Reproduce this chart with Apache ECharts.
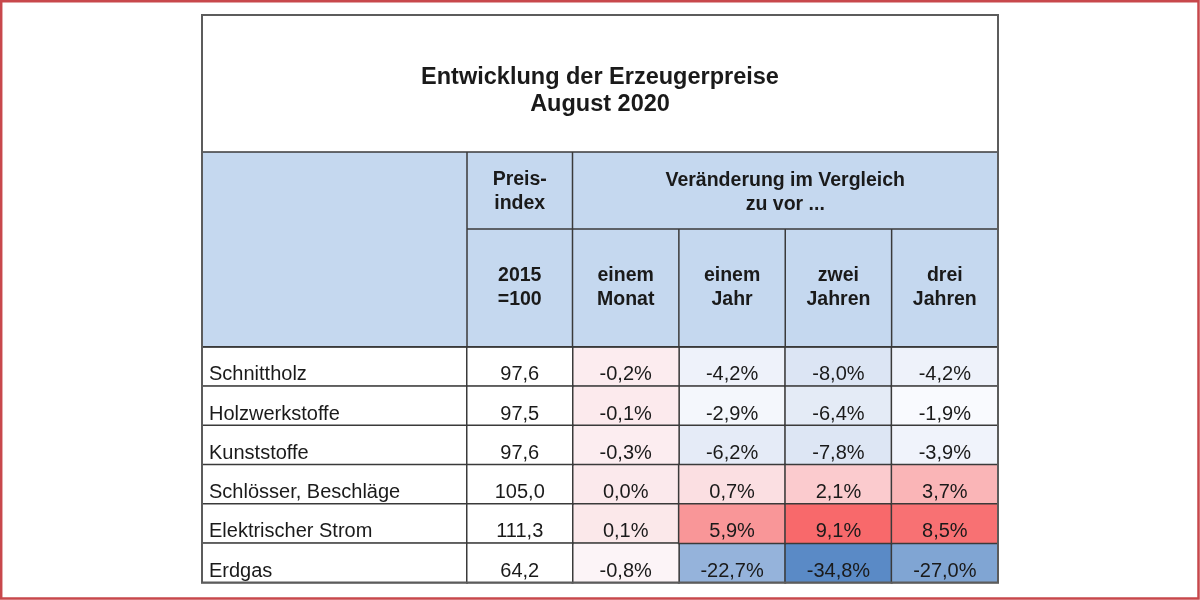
<!DOCTYPE html>
<html>
<head>
    <meta charset="utf-8">
    <title>Entwicklung der Erzeugerpreise</title>
    <script src="https://cdn.jsdelivr.net/npm/echarts@6/dist/echarts.min.js"></script>
    <style>html, body { margin: 0; padding: 0; background: #fff; }</style>
</head>
<body>
    <div id="main" style="width: 1200px;height:600px;"></div>
    <script type="text/javascript">
        // Werte aus der Tabelle
        var categories = ["Schnittholz", "Holzwerkstoffe", "Kunststoffe", "Schlösser, Beschläge", "Elektrischer Strom", "Erdgas"]
        var priceIndex = [97.6, 97.5, 97.6, 105.0, 111.3, 64.2]
        var periods = ["einem\nMonat", "einem\nJahr", "zwei\nJahren", "drei\nJahren"]
        var changeMonth = [-0.2, -0.1, -0.3, 0.0, 0.1, -0.8]
        var changeYear = [-4.2, -2.9, -6.2, 0.7, 5.9, -22.7]
        var changeTwoYears = [-8.0, -6.4, -7.8, 2.1, 9.1, -34.8]
        var changeThreeYears = [-4.2, -1.9, -3.9, 3.7, 8.5, -27.0]
        var titleText = "Entwicklung der Erzeugerpreise\nAugust 2020"
        var indexHead = "Preis-\nindex"
        var indexBase = "2015\n=100"
        var changeHead = "Veränderung im Vergleich\nzu vor ..."

        var font = "Liberation Sans"
        var ink = "#1a1a1a"
        var rule = "#3a3a3a"

        // Tabellenraster
        var L = 202, R = 998, T = 15, B = 582.5
        var yHead = 152, yHead2 = 229, yBody = 347
        var xIndex = 467, xChange = 572.5

        function fmt(v) {
            return v.toFixed(1).replace(".", ",")
        }

        // Farbskala wie Excel: Mitte beim 50. Perzentil
        var columns = [changeMonth, changeYear, changeTwoYears, changeThreeYears]
        var all = []
        columns.forEach(function (col) { all = all.concat(col) })
        var sorted = all.slice().sort(function (a, b) { return a - b })
        var pos = (sorted.length - 1) * 0.5
        var mid = sorted[Math.floor(pos)] + (sorted[Math.ceil(pos)] - sorted[Math.floor(pos)]) * (pos - Math.floor(pos))
        var minVal = sorted[0], maxVal = sorted[sorted.length - 1]

        var lowData = [], highData = []
        columns.forEach(function (col, j) {
            col.forEach(function (v, i) {
                if (v <= mid) lowData.push([j, i, v])
                else highData.push([j, i, v])
            })
        })
        var nameData = categories.map(function (c, i) { return [0, i, 0] })
        var indexData = priceIndex.map(function (v, i) { return [0, i, v] })

        var cellLabel = {
            show: true,
            position: ["50%", "70%"],
            align: "center",
            verticalAlign: "middle",
            color: ink,
            fontSize: 20,
            fontFamily: font
        }
        var cellStyle = { borderColor: rule, borderWidth: 1.5 }

        function line(x1, y1, x2, y2) {
            return { type: "line", z: 50, shape: { x1: x1, y1: y1, x2: x2, y2: y2 }, style: { stroke: rule, lineWidth: 1.5 } }
        }
        function headText(x, y, text) {
            return {
                type: "text", z: 50, x: x, y: y,
                style: { text: text, align: "center", verticalAlign: "middle", fontSize: 19.5, fontWeight: "bold", fontFamily: font, lineHeight: 24, fill: ink }
            }
        }

        var bandW = (R - xChange) / periods.length
        var graphics = [
            { type: "rect", z: 0, shape: { x: L, y: yHead, width: R - L, height: yBody - yHead }, style: { fill: "#c5d8ef" } },
            line(L, yHead, R, yHead),
            line(xIndex, yHead2, R, yHead2),
            line(L, yBody, R, yBody),
            line(xIndex, yHead, xIndex, yBody),
            line(xChange, yHead, xChange, yBody),
            headText((xIndex + xChange) / 2, (yHead + yHead2) / 2 + 1, indexHead),
            headText((xIndex + xChange) / 2, (yHead2 + yBody) / 2, indexBase),
            headText((xChange + R) / 2, (yHead + yHead2) / 2 + 2, changeHead),
            { type: "rect", z: 60, shape: { x: L, y: T, width: R - L, height: B - T }, style: { fill: "none", stroke: "#5c5c5c", lineWidth: 2 } },
            { type: "rect", z: 60, shape: { x: 1.2, y: 1.2, width: 1197.3, height: 597.3 }, style: { fill: "none", stroke: "#c8484c", lineWidth: 2.5 } }
        ]
        for (var k = 1; k < periods.length; k++) {
            graphics.push(line(xChange + k * bandW, yHead2, xChange + k * bandW, yBody))
        }

        var myChart = echarts.init(document.getElementById("main"))

        var hiddenCat = { type: "category", show: false }
        var option = {
            backgroundColor: "#ffffff",
            animation: false,
            title: {
                text: titleText,
                left: "center",
                top: 64,
                padding: 0,
                textStyle: { fontSize: 23.5, fontWeight: "bold", fontFamily: font, color: ink, lineHeight: 27 }
            },
            grid: [
                { left: L, top: yBody, width: xIndex - L, height: B - yBody },
                { left: xIndex, top: yBody, width: xChange - xIndex, height: B - yBody },
                { left: xChange, top: yBody, width: R - xChange, height: B - yBody }
            ],
            xAxis: [
                Object.assign({ gridIndex: 0, data: [""] }, hiddenCat),
                Object.assign({ gridIndex: 1, data: [""] }, hiddenCat),
                {
                    gridIndex: 2, type: "category", data: periods, position: "top", z: 10,
                    axisLine: { show: false }, axisTick: { show: false }, splitLine: { show: false },
                    axisLabel: { interval: 0, margin: 35, fontSize: 19.5, fontWeight: "bold", fontFamily: font, lineHeight: 24, color: ink }
                }
            ],
            yAxis: [
                Object.assign({ gridIndex: 0, data: categories, inverse: true }, hiddenCat),
                Object.assign({ gridIndex: 1, data: categories, inverse: true }, hiddenCat),
                Object.assign({ gridIndex: 2, data: categories, inverse: true }, hiddenCat)
            ],
            visualMap: [
                { type: "continuous", show: false, seriesIndex: 0, dimension: 2, min: minVal, max: mid, inRange: { color: ["#5A8AC6", "#FCFCFF"] } },
                { type: "continuous", show: false, seriesIndex: 1, dimension: 2, min: mid, max: maxVal, inRange: { color: ["#FCFCFF", "#F8696B"] } },
                { type: "continuous", show: false, seriesIndex: [2, 3], dimension: 2, min: 0, max: 1000, inRange: { color: ["#ffffff", "#ffffff"] } }
            ],
            series: [
                {
                    name: "unter Median", type: "heatmap", xAxisIndex: 2, yAxisIndex: 2, data: lowData,
                    itemStyle: cellStyle, emphasis: { disabled: true },
                    label: Object.assign({ formatter: function (p) { return fmt(p.value[2]) + "%" } }, cellLabel)
                },
                {
                    name: "über Median", type: "heatmap", xAxisIndex: 2, yAxisIndex: 2, data: highData,
                    itemStyle: cellStyle, emphasis: { disabled: true },
                    label: Object.assign({ formatter: function (p) { return fmt(p.value[2]) + "%" } }, cellLabel)
                },
                {
                    name: "Gütergruppe", type: "heatmap", xAxisIndex: 0, yAxisIndex: 0, data: nameData,
                    itemStyle: cellStyle, emphasis: { disabled: true },
                    label: Object.assign({}, cellLabel, {
                        position: [8, "70%"], align: "left",
                        formatter: function (p) { return categories[p.value[1]] }
                    })
                },
                {
                    name: "Preisindex", type: "heatmap", xAxisIndex: 1, yAxisIndex: 1, data: indexData,
                    itemStyle: cellStyle, emphasis: { disabled: true },
                    label: Object.assign({ formatter: function (p) { return fmt(p.value[2]) } }, cellLabel)
                }
            ],
            graphic: graphics
        }

        myChart.setOption(option)
    </script>
</body>
</html>
